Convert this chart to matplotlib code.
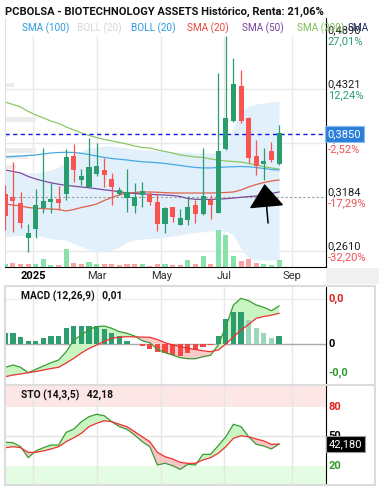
import numpy as np
import matplotlib
matplotlib.use('Agg')
import matplotlib.pyplot as plt
from matplotlib.patches import Rectangle
from matplotlib.lines import Line2D

plt.rcParams['font.family'] = ['Roboto', 'DejaVu Sans']

# weekly candles, Dec 2024 -> Aug 2025
opens = [0.3205, 0.3173, 0.3110, 0.2761, 0.2856, 0.3078, 0.3137, 0.3152, 0.3226, 0.3607,
         0.3374, 0.3300, 0.3438, 0.3459, 0.3364, 0.3226, 0.3184, 0.3099, 0.3216, 0.3205,
         0.3121, 0.2909, 0.3068, 0.2899, 0.2951, 0.3089, 0.3015, 0.3142, 0.3025, 0.3702,
         0.3998, 0.4347, 0.4009, 0.3607, 0.3543, 0.3660, 0.3543]
highs = [0.3311, 0.3554, 0.3237, 0.2899, 0.3269, 0.3702, 0.3332, 0.3300, 0.3691, 0.3744,
         0.3480, 0.3808, 0.3755, 0.3596, 0.3438, 0.3290, 0.3480, 0.3332, 0.3343, 0.3237,
         0.3226, 0.3078, 0.3078, 0.3057, 0.3194, 0.3152, 0.3702, 0.3205, 0.4495, 0.4890,
         0.4653, 0.4527, 0.4030, 0.3787, 0.3702, 0.3765, 0.3945]
lows = [0.2835, 0.2814, 0.2856, 0.2603, 0.2751, 0.3015, 0.3015, 0.3047, 0.3152, 0.3343,
        0.3311, 0.3279, 0.3406, 0.3290, 0.3099, 0.3205, 0.3025, 0.3015, 0.3078, 0.3099,
        0.2825, 0.2803, 0.2920, 0.2888, 0.2888, 0.2909, 0.2994, 0.2951, 0.3015, 0.3681,
        0.3977, 0.3966, 0.3543, 0.3417, 0.3364, 0.3554, 0.3522]
closes = [0.2994, 0.3152, 0.2920, 0.2793, 0.3089, 0.3131, 0.3152, 0.3131, 0.3596, 0.3480,
          0.3395, 0.3491, 0.3501, 0.3427, 0.3300, 0.3247, 0.3226, 0.3173, 0.3237, 0.3142,
          0.2909, 0.3057, 0.2983, 0.2951, 0.3068, 0.3015, 0.3184, 0.3110, 0.3660, 0.4009,
          0.4368, 0.3998, 0.3607, 0.3522, 0.3554, 0.3586, 0.3850]
volume = [2.7, 4, 3.3, 3.3, 3.3, 7.7, 1.7, 2, 18.3, 4.3, 2.7, 5, 3.3, 3.3, 3.3, 2, 2.7, 3.3,
          2.7, 1.5, 2.7, 2.7, 2, 2, 7.3, 2.7, 11, 3.3, 37, 32, 11, 6, 8.3, 4, 3.3, 2.3, 6.7]
volume_up = 'grrrgggrgrrggrrrrrgrrgrrgrgrgggrrrggg'

sma20 = [0.3110, 0.3099, 0.3089, 0.3073, 0.3065, 0.3061, 0.3057, 0.3052, 0.3036, 0.3052,
         0.3073, 0.3089, 0.3110, 0.3147, 0.3179, 0.3205, 0.3226, 0.3232, 0.3237, 0.3237,
         0.3234, 0.3230, 0.3226, 0.3226, 0.3226, 0.3226, 0.3226, 0.3226, 0.3228, 0.3232,
         0.3237, 0.3258, 0.3290, 0.3316, 0.3337, 0.3353, 0.3364]
sma50 = [0.3469, 0.3454, 0.3438, 0.3401, 0.3374, 0.3353, 0.3334, 0.3319, 0.3307, 0.3298,
         0.3290, 0.3282, 0.3271, 0.3260, 0.3251, 0.3240, 0.3226, 0.3221, 0.3216, 0.3213,
         0.3208, 0.3205, 0.3200, 0.3189, 0.3168, 0.3160, 0.3158, 0.3158, 0.3161, 0.3166,
         0.3173, 0.3181, 0.3188, 0.3194, 0.3205, 0.3221, 0.3237]
sma100 = [0.3607, 0.3612, 0.3617, 0.3623, 0.3628, 0.3639, 0.3649, 0.3654, 0.3657, 0.3654,
          0.3646, 0.3633, 0.3617, 0.3602, 0.3591, 0.3583, 0.3575, 0.3565, 0.3556, 0.3552,
          0.3546, 0.3538, 0.3528, 0.3517, 0.3506, 0.3496, 0.3491, 0.3491, 0.3496, 0.3501,
          0.3504, 0.3506, 0.3504, 0.3496, 0.3485, 0.3475, 0.3469]
sma200 = [0.4188, 0.4162, 0.4135, 0.4088, 0.4051, 0.4019, 0.3987, 0.3961, 0.3924, 0.3892,
          0.3861, 0.3834, 0.3813, 0.3792, 0.3776, 0.3760, 0.3744, 0.3723, 0.3707, 0.3702,
          0.3681, 0.3665, 0.3649, 0.3628, 0.3618, 0.3607, 0.3602, 0.3586, 0.3575, 0.3565,
          0.3559, 0.3554, 0.3538, 0.3522, 0.3506, 0.3491, 0.3480]
boll_up = [0.3459, 0.3448, 0.3438, 0.3438, 0.3438, 0.3448, 0.3469, 0.3501, 0.3554, 0.3617,
           0.3670, 0.3702, 0.3713, 0.3723, 0.3723, 0.3713, 0.3702, 0.3691, 0.3681, 0.3681,
           0.3670, 0.3670, 0.3660, 0.3660, 0.3660, 0.3649, 0.3649, 0.3649, 0.3660, 0.3734,
           0.3913, 0.4083, 0.4146, 0.4167, 0.4178, 0.4188, 0.4199]
boll_dn = [0.2766, 0.2772, 0.2777, 0.2782, 0.2772, 0.2761, 0.2745, 0.2735, 0.2729, 0.2692,
           0.2661, 0.2629, 0.2606, 0.2613, 0.2624, 0.2655, 0.2708, 0.2729, 0.2740, 0.2745,
           0.2747, 0.2761, 0.2772, 0.2782, 0.2798, 0.2809, 0.2817, 0.2825, 0.2825, 0.2825,
           0.2782, 0.2634, 0.2539, 0.2518, 0.2518, 0.2518, 0.2518]

# volume-by-price blocks on the left edge
profile_lvl = [0.4368, 0.4003, 0.3839, 0.3676, 0.3607, 0.3501, 0.3332, 0.3168, 0.3078, 0.2962, 0.2793]
profile_len = [1.2, 4.1, 0.5, 4.1, 3.0, 1.45, 0.5, 3.55, 1.45, 0.8, 0.8]

# MACD (12,26,9), scaled units
macd = [-23.3, -21, -23.3, -28.7, -25.3, -22, -18.7, -16, -7.7, 4, 9, 14.7, 17.3, 18, 15.7,
        12.3, 10.7, 8, 3.3, 1.3, -5.3, -8.7, -11, -13.7, -14.7, -14.7, -12.7, -11.3, -1,
        17.3, 39, 45.7, 43.3, 39, 36.7, 33.3, 38]
signal = [-32.7, -31, -30, -28.7, -27.5, -26, -24.5, -23.3, -19, -14.3, -9, -4.5, -1, 2.7,
          5.7, 6.8, 7.3, 7.2, 6.9, 6.7, 4.5, 1.3, -1, -2.5, -4.3, -5.5, -6.8, -7.7, -6, 0,
          7, 14, 19.5, 25.7, 27.5, 28.8, 30.7]
hist = [11, 11, 7.3, 3, 3, 5.7, 8, 8, 15.7, 18, 18, 18, 18, 14.7, 11.3, 8, 3, 0.5, -2, -5,
        -7.7, -9.3, -11, -12, -9.3, -6, -2.7, -1.3, 8, 24.7, 32.3, 32.3, 24, 15.7, 10.7, 5.7, 8]

# Stochastic (14,3,5)
sto_k = [44.0, 43.6, 39.5, 28.4, 35.2, 38.5, 41.2, 41.2, 54.1, 57.4, 64.8, 69.9, 72.3, 70.9,
         64.8, 59.8, 57.1, 51.4, 44.6, 39.5, 21.0, 22.7, 20.3, 16.6, 21.7, 21.0, 31.8, 31.8,
         40.5, 49.6, 62.2, 59.8, 49.6, 41.9, 40.2, 37.2, 42.18]
sto_d = [38.5, 39.5, 38.5, 33.8, 33.8, 35.2, 37.2, 39.5, 44.6, 48.6, 53.1, 59.8, 63.2, 65.8,
         64.8, 62.2, 59.8, 54.7, 49.6, 44.6, 33.8, 29.4, 27.1, 23.7, 22.7, 22.7, 26.1, 28.4,
         32.8, 39.5, 48.0, 50.6, 49.6, 47.3, 45.3, 41.9, 42.2]

month_pos = [3.68, 12.09, 20.5, 28.78, 37.71]
month_labels = ['2025', 'Mar', 'May', 'Jul', 'Sep']
axis_prices = [0.4890, 0.4321, 0.3753, 0.3184, 0.2610]
axis_pcts = ['27,01%', '12,24%', '-2,52%', '-17,29%', '-32,20%']

W, H = 379, 490
fig = plt.figure(figsize=(W / 100, H / 100), dpi=100)


def fx(x):
    return x / W


def fy(y):
    return 1 - y / H


def rect(x0, y0, x1, y1):
    return [fx(x0), fy(y1), fx(x1) - fx(x0), fy(y0) - fy(y1)]


GREEN = '#2a9d6f'
RED = '#f9544f'
idx = np.arange(len(closes))
o, c = np.array(opens), np.array(closes)
ccol = [GREEN if c[i] >= o[i] else RED for i in idx]

# ---------------- main price panel
ax = fig.add_axes(rect(5, 18, 325.7, 267))
ax.set_xlim(-0.05, 42.14)
ax.set_ylim(0.2444, 0.5076)
ax.vlines(month_pos, 0.2444, 0.4890, color='#e9e9e9', lw=1, zorder=0)
for lv in axis_prices[1:]:
    if lv == 0.3184:
        ax.axhline(lv, color='#9a9a9a', lw=0.8, ls=(0, (2, 2)), zorder=1)
    else:
        ax.axhline(lv, color='#e9e9e9', lw=1, zorder=0)
ax.barh(profile_lvl, profile_len, left=-0.05, height=0.0052, color='#ececec', zorder=0.5)
ax.fill_between(idx, boll_dn, boll_up, color='#e1f0fb', lw=0, zorder=0.6)
ax.plot(idx, sma200, color='#8cc665', lw=0.9, zorder=2)
ax.plot(idx, sma100, color='#45aae4', lw=0.9, zorder=2)
ax.plot(idx, sma50, color='#7d4b9d', lw=0.9, zorder=2)
ax.plot(idx, sma20, color='#e0604a', lw=0.9, zorder=2)
ax.axhline(closes[-1], color='#1414e6', lw=1, ls=(0, (3, 2.5)), zorder=2.5)
ax.vlines(idx, lows, highs, colors=ccol, lw=0.9, zorder=3)
ax.bar(idx, np.abs(c - o) + 0.0012, bottom=np.minimum(o, c) - 0.0006, width=0.66,
       color=ccol, zorder=3)
ax.annotate('', xy=(34.1, 0.3321), xytext=(34.56, 0.2909),
            arrowprops=dict(arrowstyle='-|>,head_length=1.5,head_width=1.12',
                            color='black', lw=1.1, shrinkA=0, shrinkB=0), zorder=4)
ax.spines['top'].set_visible(False)
ax.spines['left'].set_color('#dddddd')
ax.spines['right'].set_color('black')
ax.spines['bottom'].set_color('black')
ax.set_yticks([])
ax.set_xticks(month_pos)
ax.set_xticklabels(month_labels, fontsize=8, color='#333333')
ax.get_xticklabels()[0].set_fontweight('bold')
ax.get_xticklabels()[0].set_color('black')
ax.tick_params(axis='x', length=0, pad=3)

vax = ax.twinx()
vax.set_ylim(0, 249)
vax.bar(idx, volume, width=0.66,
        color=['#88e0ab' if v == 'g' else '#f8a3a3' for v in volume_up])
vax.axis('off')

# right price scale
yt = ax.get_yaxis_transform()
for lv, pct in zip(axis_prices, axis_pcts):
    ax.annotate(f'{lv:.4f}'.replace('.', ','), xy=(1, lv), xycoords=yt,
                xytext=(2, 5), textcoords='offset pixels', fontsize=8,
                color='#1e1e1e', va='center', annotation_clip=False)
    ax.annotate(pct, xy=(1, lv), xycoords=yt, xytext=(2, -6),
                textcoords='offset pixels', fontsize=8,
                color='#2a9d6f' if not pct.startswith('-') else '#f05050',
                va='center', annotation_clip=False)
ax.annotate(f'{closes[-1]:.4f}'.replace('.', ','), xy=(1, closes[-1]), xycoords=yt,
            xytext=(2, 0), textcoords='offset pixels', fontsize=8, color='white',
            va='center', annotation_clip=False, zorder=10,
            bbox=dict(boxstyle='square,pad=0.28', fc='#2b7fd9', ec='#8cbcee', lw=0.8))

# title + legend
fig.text(fx(5), fy(12), 'PCBOLSA - BIOTECHNOLOGY ASSETS Histórico, Renta: 21,06%',
         fontsize=8, fontweight='bold', va='center', color='#111111')
legend = [('SMA (100)', '#2d9be0', 22), ('BOLL (20)', '#d6d6d6', 77),
          ('BOLL (20)', '#2b9ae0', 131), ('SMA (20)', '#e8453c', 187),
          ('SMA (50)', '#7a3f98', 242), ('SMA (200)', '#7bbf52', 297), ('SMA', '#1a2b5e', 348)]
for txt, col, x in legend:
    fig.text(fx(x), fy(28), txt, fontsize=7.2, color=col, va='center')

# strip right of the date labels
fig.add_artist(Rectangle((fx(326), fy(284)), fx(379) - fx(326), fy(268) - fy(284),
                         transform=fig.transFigure, color='#f1f1f1', lw=0))

# ---------------- MACD panel
mx = fig.add_axes(rect(5, 286, 325.7, 384))
mx.set_xlim(-0.05, 42.14)
mx.set_ylim(-40, 58)
mx.vlines(month_pos, -40, 58, color='#e9e9e9', lw=1, zorder=0)
mx.axhline(45.5, color='#eeeeee', lw=1, zorder=0)
mx.axhline(0, color='#a8a8a8', lw=1, zorder=1)
h = np.array(hist)
hcol = []
for i in idx:
    if h[i] >= 0:
        hcol.append('#9bd6bb' if 32 <= i <= 35 else '#2e9e72')
    else:
        hcol.append('#f44848')
mx.bar(idx, h, width=0.7, color=hcol, zorder=2)
m, sg = np.array(macd), np.array(signal)
mx.fill_between(idx, m, sg, where=m >= sg, interpolate=True, color='#c9f5c2', lw=0, zorder=1.5)
mx.fill_between(idx, m, sg, where=m < sg, interpolate=True, color='#f8caca', lw=0, zorder=1.5)
mx.plot(idx, macd, color='#3c9a34', lw=0.9, zorder=3)
mx.plot(idx, signal, color='#f03030', lw=0.9, zorder=3)
for s in ['top', 'left', 'bottom']:
    mx.spines[s].set_visible(False)
mx.spines['right'].set_color('black')
mx.set_xticks([])
mx.set_yticks([])
mt = mx.get_yaxis_transform()
for val, txt, col in [(45.5, '0,0', '#e02020'), (0, '0', 'black'), (-29, '-0,0', '#2f9a2f')]:
    mx.text(1.008, val, txt, transform=mt, fontsize=8, fontweight='bold', color=col,
            va='center', clip_on=False)
fig.text(fx(21), fy(296), 'MACD (12,26,9)   0,01', fontsize=7.4, fontweight='bold',
         va='center', color='#111111')

# ---------------- Stochastic panel
sx = fig.add_axes(rect(5, 386, 325.7, 485))
sx.set_xlim(-0.05, 42.14)
sx.set_ylim(0.75, 100.95)
sx.axhspan(80, 100.95, color='#fde6e6', lw=0, zorder=0)
sx.axhspan(0.75, 20, color='#e3fce3', lw=0, zorder=0)
sx.vlines(month_pos, 0.75, 100.95, color='#e6e6e6', lw=1, zorder=0.5)
sx.axhline(50, color='#e3e3e3', lw=1, zorder=0.5)
k, d = np.array(sto_k), np.array(sto_d)
sx.fill_between(idx, k, d, where=k >= d, interpolate=True, color='#c9f5c2', lw=0, zorder=1)
sx.fill_between(idx, k, d, where=k < d, interpolate=True, color='#f8c6c6', lw=0, zorder=1)
sx.plot(idx, sto_k, color='#3c9a34', lw=0.9, zorder=2)
sx.plot(idx, sto_d, color='#f03030', lw=0.9, zorder=2)
for s in ['top', 'left', 'bottom']:
    sx.spines[s].set_visible(False)
sx.spines['right'].set_color('black')
sx.set_xticks([])
sx.set_yticks([])
st = sx.get_yaxis_transform()
for val, txt, col in [(80, '80', '#e02020'), (50, '50', 'black'), (20, '20', '#2f9a2f')]:
    sx.text(1.008, val, txt, transform=st, fontsize=8, fontweight='bold', color=col,
            va='center', clip_on=False)
sx.annotate(f'{sto_k[-1]:.3f}'.replace('.', ','), xy=(1, sto_k[-1]), xycoords=st,
            xytext=(3, 0), textcoords='offset pixels', fontsize=8, color='white',
            va='center', annotation_clip=False, zorder=10,
            bbox=dict(boxstyle='square,pad=0.25', fc='black', ec='#999999', lw=0.8))
fig.text(fx(21), fy(395), 'STO (14,3,5)   42,18', fontsize=7.4, fontweight='bold',
         va='center', color='#111111')

# frame around the lower panels
fig.add_artist(Rectangle((fx(5), fy(485)), fx(375) - fx(5), fy(285.5) - fy(485),
                         transform=fig.transFigure, fill=False, ec='#dcdcdc', lw=1.5))
fig.add_artist(Line2D([fx(5), fx(375)], [fy(385), fy(385)], transform=fig.transFigure,
                      color='#dcdcdc', lw=1.5))

fig.savefig('out.png', dpi=100)
